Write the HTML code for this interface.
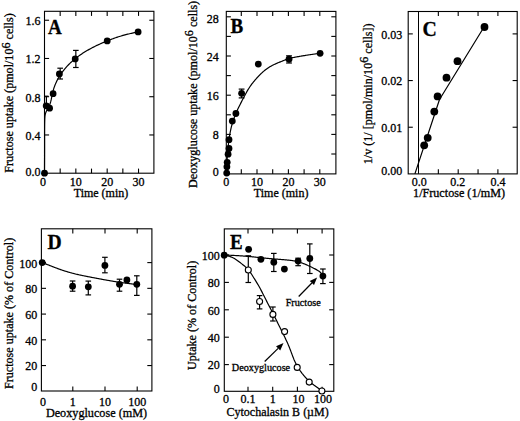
<!DOCTYPE html>
<html><head><meta charset="utf-8"><style>
html,body{margin:0;padding:0;background:#fff;}
svg{display:block;}
text{font-family:"Liberation Serif", serif;fill:#000;stroke:#000;stroke-width:0.3px;}
</style></head><body>
<svg width="520" height="421" viewBox="0 0 520 421">
<rect width="520" height="421" fill="#fff"/>
<rect x="44.50" y="11.30" width="109.40" height="161.90" fill="none" stroke="#000" stroke-width="1.1"/>
<line x1="60.17" y1="173.20" x2="60.17" y2="168.60" stroke="#000" stroke-width="1.1"/>
<line x1="60.17" y1="11.30" x2="60.17" y2="15.90" stroke="#000" stroke-width="1.1"/>
<line x1="75.84" y1="173.20" x2="75.84" y2="168.60" stroke="#000" stroke-width="1.1"/>
<line x1="75.84" y1="11.30" x2="75.84" y2="15.90" stroke="#000" stroke-width="1.1"/>
<line x1="91.51" y1="173.20" x2="91.51" y2="168.60" stroke="#000" stroke-width="1.1"/>
<line x1="91.51" y1="11.30" x2="91.51" y2="15.90" stroke="#000" stroke-width="1.1"/>
<line x1="107.18" y1="173.20" x2="107.18" y2="168.60" stroke="#000" stroke-width="1.1"/>
<line x1="107.18" y1="11.30" x2="107.18" y2="15.90" stroke="#000" stroke-width="1.1"/>
<line x1="122.85" y1="173.20" x2="122.85" y2="168.60" stroke="#000" stroke-width="1.1"/>
<line x1="122.85" y1="11.30" x2="122.85" y2="15.90" stroke="#000" stroke-width="1.1"/>
<line x1="138.52" y1="173.20" x2="138.52" y2="168.60" stroke="#000" stroke-width="1.1"/>
<line x1="138.52" y1="11.30" x2="138.52" y2="15.90" stroke="#000" stroke-width="1.1"/>
<line x1="44.50" y1="134.96" x2="49.10" y2="134.96" stroke="#000" stroke-width="1.1"/>
<line x1="153.90" y1="134.96" x2="149.30" y2="134.96" stroke="#000" stroke-width="1.1"/>
<line x1="44.50" y1="96.72" x2="49.10" y2="96.72" stroke="#000" stroke-width="1.1"/>
<line x1="153.90" y1="96.72" x2="149.30" y2="96.72" stroke="#000" stroke-width="1.1"/>
<line x1="44.50" y1="58.48" x2="49.10" y2="58.48" stroke="#000" stroke-width="1.1"/>
<line x1="153.90" y1="58.48" x2="149.30" y2="58.48" stroke="#000" stroke-width="1.1"/>
<line x1="44.50" y1="20.24" x2="49.10" y2="20.24" stroke="#000" stroke-width="1.1"/>
<line x1="153.90" y1="20.24" x2="149.30" y2="20.24" stroke="#000" stroke-width="1.1"/>
<text x="43.00" y="185.60" font-size="12" text-anchor="middle" font-weight="normal" >0</text>
<text x="75.84" y="185.60" font-size="12" text-anchor="middle" font-weight="normal" >10</text>
<text x="107.18" y="185.60" font-size="12" text-anchor="middle" font-weight="normal" >20</text>
<text x="138.52" y="185.60" font-size="12" text-anchor="middle" font-weight="normal" >30</text>
<text x="40.60" y="175.50" font-size="12" text-anchor="end" font-weight="normal" >0.0</text>
<text x="40.60" y="139.86" font-size="12" text-anchor="end" font-weight="normal" >0.4</text>
<text x="40.60" y="101.62" font-size="12" text-anchor="end" font-weight="normal" >0.8</text>
<text x="40.60" y="63.38" font-size="12" text-anchor="end" font-weight="normal" >1.2</text>
<text x="40.60" y="25.14" font-size="12" text-anchor="end" font-weight="normal" >1.6</text>
<text x="101.00" y="197.30" font-size="12" text-anchor="middle" font-weight="normal" >Time (min)</text>
<text x="13.40" y="93.05" font-size="12.1" text-anchor="middle" font-weight="normal" transform="rotate(-90 13.4 93.05)">Fructose uptake (pmol/10<tspan dy="-3.8">6</tspan><tspan dy="3.8"> cells)</tspan></text>
<text transform="translate(48.00 33.50) scale(1 1.08)" x="0" y="0" font-size="19" font-weight="bold">A</text>
<path d="M44.50,173.20 L44.51,172.23 L44.51,171.26 L44.51,170.29 L44.52,169.32 L44.52,168.36 L44.53,167.39 L44.53,166.42 L44.54,165.45 L44.54,164.48 L44.55,163.51 L44.55,162.54 L44.56,161.58 L44.56,160.61 L44.57,159.64 L44.57,158.67 L44.57,157.71 L44.58,156.74 L44.58,155.77 L44.58,154.81 L44.59,153.84 L44.59,152.88 L44.59,151.91 L44.59,150.95 L44.60,149.98 L44.60,149.02 L44.60,148.06 L44.60,147.09 L44.60,146.13 L44.60,145.17 L44.60,144.21 L44.60,143.25 L44.60,142.29 L44.60,141.33 L44.60,140.37 L44.60,139.41 L44.60,138.45 L44.60,137.50 L44.59,136.54 L44.59,135.58 L44.59,134.62 L44.59,133.66 L44.59,132.71 L44.59,131.75 L44.60,130.79 L44.60,129.82 L44.61,128.86 L44.61,127.90 L44.62,126.93 L44.63,125.96 L44.64,124.99 L44.66,124.02 L44.68,123.04 L44.70,122.06 L44.72,121.08 L44.75,120.10 L44.78,119.11 L44.82,118.13 L44.88,117.14 L44.97,116.17 L45.11,115.21 L45.29,114.26 L45.52,113.33 L45.83,112.43 L46.20,111.55 L46.65,110.70 L47.14,109.87 L47.64,109.03 L48.13,108.20 L48.59,107.35 L49.01,106.49 L49.40,105.61 L49.74,104.71 L50.06,103.81 L50.35,102.89 L50.62,101.97 L50.86,101.03 L51.09,100.09 L51.31,99.15 L51.51,98.19 L51.71,97.24 L51.90,96.28 L52.10,95.32 L52.30,94.37 L52.50,93.41 L52.72,92.46 L52.95,91.51 L53.19,90.57 L53.46,89.63 L53.74,88.70 L54.03,87.78 L54.35,86.86 L54.68,85.95 L55.03,85.05 L55.39,84.15 L55.77,83.26 L56.17,82.38 L56.58,81.50 L57.01,80.63 L57.45,79.77 L57.90,78.92 L58.38,78.07 L58.86,77.24 L59.36,76.41 L59.87,75.59 L60.39,74.77 L60.93,73.97 L61.48,73.17 L62.05,72.38 L62.62,71.60 L63.21,70.83 L63.81,70.07 L64.42,69.31 L65.04,68.57 L65.67,67.83 L66.32,67.10 L66.97,66.38 L67.63,65.67 L68.31,64.97 L68.99,64.28 L69.68,63.59 L70.38,62.92 L71.09,62.25 L71.81,61.60 L72.53,60.95 L73.26,60.31 L74.00,59.68 L74.75,59.07 L75.50,58.46 L76.27,57.86 L77.03,57.26 L77.81,56.68 L78.59,56.11 L79.37,55.55 L80.16,54.99 L80.96,54.44 L81.76,53.90 L82.57,53.37 L83.38,52.85 L84.20,52.33 L85.02,51.83 L85.85,51.32 L86.68,50.83 L87.51,50.34 L88.35,49.86 L89.19,49.39 L90.04,48.92 L90.89,48.46 L91.74,48.01 L92.59,47.56 L93.45,47.12 L94.31,46.68 L95.18,46.25 L96.05,45.83 L96.92,45.41 L97.79,44.99 L98.66,44.59 L99.54,44.18 L100.42,43.78 L101.30,43.39 L102.19,43.00 L103.07,42.62 L103.96,42.24 L104.85,41.86 L105.75,41.49 L106.64,41.13 L107.54,40.76 L108.44,40.41 L109.34,40.05 L110.24,39.70 L111.14,39.36 L112.05,39.02 L112.95,38.69 L113.86,38.36 L114.77,38.04 L115.69,37.72 L116.60,37.41 L117.52,37.10 L118.44,36.80 L119.36,36.51 L120.28,36.23 L121.20,35.95 L122.13,35.68 L123.06,35.41 L123.99,35.16 L124.92,34.91 L125.85,34.66 L126.79,34.43 L127.73,34.20 L128.66,33.97 L129.60,33.75 L130.55,33.53 L131.49,33.32 L132.43,33.11 L133.37,32.91 L134.32,32.70 L135.26,32.50 L136.21,32.30 L137.15,32.10 L138.10,31.90" fill="none" stroke="#000" stroke-width="1.2" stroke-linejoin="round"/>
<line x1="60.17" y1="68.20" x2="60.17" y2="79.00" stroke="#000" stroke-width="1.2"/>
<line x1="57.37" y1="68.20" x2="62.97" y2="68.20" stroke="#000" stroke-width="1.2"/>
<line x1="57.37" y1="79.00" x2="62.97" y2="79.00" stroke="#000" stroke-width="1.2"/>
<line x1="75.84" y1="50.40" x2="75.84" y2="67.50" stroke="#000" stroke-width="1.2"/>
<line x1="73.04" y1="50.40" x2="78.64" y2="50.40" stroke="#000" stroke-width="1.2"/>
<line x1="73.04" y1="67.50" x2="78.64" y2="67.50" stroke="#000" stroke-width="1.2"/>
<line x1="46.40" y1="96.20" x2="46.40" y2="104.00" stroke="#000" stroke-width="1.2"/>
<line x1="44.30" y1="96.20" x2="48.50" y2="96.20" stroke="#000" stroke-width="1.2"/>
<line x1="44.30" y1="104.00" x2="48.50" y2="104.00" stroke="#000" stroke-width="1.2"/>
<circle cx="44.50" cy="173.20" r="3.4" fill="#000"/>
<circle cx="46.20" cy="105.80" r="3.4" fill="#000"/>
<circle cx="49.60" cy="108.20" r="3.4" fill="#000"/>
<circle cx="53.10" cy="93.70" r="3.4" fill="#000"/>
<circle cx="59.40" cy="74.00" r="3.4" fill="#000"/>
<circle cx="75.20" cy="58.90" r="3.4" fill="#000"/>
<circle cx="107.20" cy="40.90" r="3.4" fill="#000"/>
<circle cx="138.10" cy="31.90" r="3.4" fill="#000"/>
<rect x="226.30" y="11.40" width="109.60" height="162.50" fill="none" stroke="#000" stroke-width="1.1"/>
<line x1="241.30" y1="173.90" x2="241.30" y2="169.30" stroke="#000" stroke-width="1.1"/>
<line x1="241.30" y1="11.40" x2="241.30" y2="16.00" stroke="#000" stroke-width="1.1"/>
<line x1="257.00" y1="173.90" x2="257.00" y2="169.30" stroke="#000" stroke-width="1.1"/>
<line x1="257.00" y1="11.40" x2="257.00" y2="16.00" stroke="#000" stroke-width="1.1"/>
<line x1="272.70" y1="173.90" x2="272.70" y2="169.30" stroke="#000" stroke-width="1.1"/>
<line x1="272.70" y1="11.40" x2="272.70" y2="16.00" stroke="#000" stroke-width="1.1"/>
<line x1="288.40" y1="173.90" x2="288.40" y2="169.30" stroke="#000" stroke-width="1.1"/>
<line x1="288.40" y1="11.40" x2="288.40" y2="16.00" stroke="#000" stroke-width="1.1"/>
<line x1="304.10" y1="173.90" x2="304.10" y2="169.30" stroke="#000" stroke-width="1.1"/>
<line x1="304.10" y1="11.40" x2="304.10" y2="16.00" stroke="#000" stroke-width="1.1"/>
<line x1="319.80" y1="173.90" x2="319.80" y2="169.30" stroke="#000" stroke-width="1.1"/>
<line x1="319.80" y1="11.40" x2="319.80" y2="16.00" stroke="#000" stroke-width="1.1"/>
<line x1="226.30" y1="154.00" x2="230.90" y2="154.00" stroke="#000" stroke-width="1.1"/>
<line x1="335.90" y1="154.00" x2="331.30" y2="154.00" stroke="#000" stroke-width="1.1"/>
<line x1="226.30" y1="134.40" x2="230.90" y2="134.40" stroke="#000" stroke-width="1.1"/>
<line x1="335.90" y1="134.40" x2="331.30" y2="134.40" stroke="#000" stroke-width="1.1"/>
<line x1="226.30" y1="114.80" x2="230.90" y2="114.80" stroke="#000" stroke-width="1.1"/>
<line x1="335.90" y1="114.80" x2="331.30" y2="114.80" stroke="#000" stroke-width="1.1"/>
<line x1="226.30" y1="95.20" x2="230.90" y2="95.20" stroke="#000" stroke-width="1.1"/>
<line x1="335.90" y1="95.20" x2="331.30" y2="95.20" stroke="#000" stroke-width="1.1"/>
<line x1="226.30" y1="75.60" x2="230.90" y2="75.60" stroke="#000" stroke-width="1.1"/>
<line x1="335.90" y1="75.60" x2="331.30" y2="75.60" stroke="#000" stroke-width="1.1"/>
<line x1="226.30" y1="56.00" x2="230.90" y2="56.00" stroke="#000" stroke-width="1.1"/>
<line x1="335.90" y1="56.00" x2="331.30" y2="56.00" stroke="#000" stroke-width="1.1"/>
<line x1="226.30" y1="36.40" x2="230.90" y2="36.40" stroke="#000" stroke-width="1.1"/>
<line x1="335.90" y1="36.40" x2="331.30" y2="36.40" stroke="#000" stroke-width="1.1"/>
<line x1="226.30" y1="16.80" x2="230.90" y2="16.80" stroke="#000" stroke-width="1.1"/>
<line x1="335.90" y1="16.80" x2="331.30" y2="16.80" stroke="#000" stroke-width="1.1"/>
<text x="226.30" y="185.60" font-size="12" text-anchor="middle" font-weight="normal" >0</text>
<text x="257.00" y="185.60" font-size="12" text-anchor="middle" font-weight="normal" >10</text>
<text x="288.40" y="185.60" font-size="12" text-anchor="middle" font-weight="normal" >20</text>
<text x="319.80" y="185.60" font-size="12" text-anchor="middle" font-weight="normal" >30</text>
<text x="218.80" y="176.00" font-size="12" text-anchor="end" font-weight="normal" >0</text>
<text x="218.80" y="139.30" font-size="12" text-anchor="end" font-weight="normal" >8</text>
<text x="218.80" y="100.10" font-size="12" text-anchor="end" font-weight="normal" >16</text>
<text x="218.80" y="60.90" font-size="12" text-anchor="end" font-weight="normal" >24</text>
<text x="218.80" y="23.00" font-size="12" text-anchor="end" font-weight="normal" >28</text>
<text x="281.10" y="197.30" font-size="12" text-anchor="middle" font-weight="normal" >Time (min)</text>
<text x="197.20" y="94.40" font-size="12.1" text-anchor="middle" font-weight="normal" transform="rotate(-90 197.2 94.4)">Deoxyglucose uptake (pmol/10<tspan dy="-3.8">6</tspan><tspan dy="3.8"> cells)</tspan></text>
<text transform="translate(230.50 33.20) scale(1 1.08)" x="0" y="0" font-size="19" font-weight="bold">B</text>
<path d="M226.30,173.60 L226.34,172.74 L226.39,171.87 L226.44,171.01 L226.48,170.15 L226.53,169.28 L226.57,168.42 L226.62,167.56 L226.67,166.69 L226.71,165.83 L226.76,164.97 L226.81,164.10 L226.86,163.24 L226.92,162.38 L226.97,161.51 L227.02,160.65 L227.08,159.79 L227.14,158.92 L227.20,158.06 L227.26,157.20 L227.32,156.34 L227.38,155.47 L227.45,154.61 L227.52,153.75 L227.59,152.89 L227.66,152.03 L227.73,151.17 L227.81,150.30 L227.89,149.44 L227.97,148.58 L228.06,147.72 L228.14,146.86 L228.24,146.00 L228.33,145.14 L228.43,144.28 L228.53,143.42 L228.63,142.56 L228.74,141.71 L228.85,140.85 L228.96,139.99 L229.08,139.13 L229.20,138.28 L229.33,137.42 L229.46,136.56 L229.59,135.71 L229.73,134.86 L229.88,134.00 L230.03,133.15 L230.19,132.30 L230.36,131.45 L230.53,130.60 L230.71,129.76 L230.89,128.91 L231.09,128.07 L231.29,127.23 L231.50,126.39 L231.72,125.55 L231.95,124.72 L232.18,123.89 L232.43,123.06 L232.68,122.23 L232.94,121.40 L233.21,120.58 L233.49,119.76 L233.77,118.94 L234.07,118.13 L234.37,117.32 L234.67,116.51 L234.99,115.70 L235.31,114.90 L235.63,114.09 L235.97,113.29 L236.31,112.50 L236.65,111.71 L237.01,110.92 L237.36,110.13 L237.73,109.34 L238.09,108.56 L238.47,107.78 L238.84,107.01 L239.23,106.23 L239.61,105.46 L240.00,104.68 L240.39,103.91 L240.78,103.14 L241.18,102.37 L241.58,101.60 L241.97,100.84 L242.37,100.07 L242.78,99.30 L243.18,98.53 L243.58,97.77 L243.98,97.00 L244.38,96.23 L244.79,95.47 L245.20,94.70 L245.61,93.94 L246.02,93.18 L246.44,92.42 L246.87,91.67 L247.30,90.92 L247.74,90.17 L248.18,89.43 L248.63,88.70 L249.10,87.97 L249.57,87.25 L250.05,86.53 L250.54,85.82 L251.04,85.12 L251.55,84.42 L252.07,83.73 L252.60,83.04 L253.14,82.37 L253.69,81.69 L254.24,81.03 L254.80,80.36 L255.36,79.71 L255.93,79.05 L256.51,78.41 L257.08,77.76 L257.67,77.12 L258.26,76.49 L258.85,75.86 L259.45,75.24 L260.06,74.62 L260.68,74.02 L261.30,73.42 L261.93,72.82 L262.57,72.24 L263.22,71.67 L263.88,71.11 L264.55,70.55 L265.22,70.01 L265.91,69.49 L266.61,68.97 L267.31,68.46 L268.03,67.97 L268.75,67.50 L269.48,67.03 L270.22,66.58 L270.97,66.15 L271.73,65.73 L272.49,65.33 L273.26,64.94 L274.04,64.57 L274.82,64.20 L275.61,63.85 L276.41,63.50 L277.20,63.16 L278.00,62.82 L278.80,62.49 L279.60,62.16 L280.40,61.83 L281.21,61.51 L282.01,61.18 L282.81,60.85 L283.62,60.54 L284.42,60.22 L285.23,59.92 L286.04,59.62 L286.86,59.34 L287.68,59.07 L288.50,58.81 L289.33,58.56 L290.16,58.33 L291.00,58.11 L291.83,57.90 L292.68,57.71 L293.52,57.52 L294.37,57.34 L295.22,57.17 L296.07,57.00 L296.92,56.84 L297.77,56.69 L298.63,56.54 L299.48,56.39 L300.33,56.24 L301.19,56.10 L302.04,55.96 L302.89,55.81 L303.75,55.67 L304.60,55.54 L305.45,55.40 L306.31,55.26 L307.16,55.13 L308.02,55.00 L308.87,54.87 L309.72,54.74 L310.58,54.61 L311.44,54.49 L312.29,54.37 L313.15,54.24 L314.00,54.12 L314.86,54.00 L315.72,53.89 L316.57,53.77 L317.43,53.65 L318.29,53.53 L319.14,53.42 L320.00,53.30" fill="none" stroke="#000" stroke-width="1.2" stroke-linejoin="round"/>
<line x1="241.60" y1="89.10" x2="241.60" y2="97.90" stroke="#000" stroke-width="1.2"/>
<line x1="238.70" y1="89.10" x2="244.50" y2="89.10" stroke="#000" stroke-width="1.2"/>
<line x1="238.70" y1="97.90" x2="244.50" y2="97.90" stroke="#000" stroke-width="1.2"/>
<line x1="289.00" y1="55.80" x2="289.00" y2="63.00" stroke="#000" stroke-width="1.2"/>
<line x1="286.10" y1="55.80" x2="291.90" y2="55.80" stroke="#000" stroke-width="1.2"/>
<line x1="286.10" y1="63.00" x2="291.90" y2="63.00" stroke="#000" stroke-width="1.2"/>
<circle cx="226.70" cy="173.10" r="3.4" fill="#000"/>
<circle cx="226.90" cy="166.80" r="3.4" fill="#000"/>
<circle cx="227.20" cy="162.30" r="3.4" fill="#000"/>
<circle cx="228.10" cy="154.20" r="3.4" fill="#000"/>
<circle cx="229.00" cy="148.40" r="3.4" fill="#000"/>
<circle cx="229.00" cy="139.70" r="3.4" fill="#000"/>
<circle cx="232.30" cy="121.10" r="3.4" fill="#000"/>
<circle cx="235.90" cy="113.50" r="3.4" fill="#000"/>
<circle cx="241.60" cy="93.30" r="3.4" fill="#000"/>
<circle cx="258.30" cy="64.10" r="3.4" fill="#000"/>
<circle cx="289.00" cy="59.20" r="3.4" fill="#000"/>
<circle cx="320.10" cy="53.30" r="3.4" fill="#000"/>
<rect x="408.20" y="11.50" width="109.00" height="162.40" fill="none" stroke="#000" stroke-width="1.1"/>
<line x1="418.50" y1="11.50" x2="418.50" y2="173.90" stroke="#000" stroke-width="1.0"/>
<line x1="438.35" y1="173.90" x2="438.35" y2="169.30" stroke="#000" stroke-width="1.1"/>
<line x1="438.35" y1="11.50" x2="438.35" y2="16.10" stroke="#000" stroke-width="1.1"/>
<line x1="458.20" y1="173.90" x2="458.20" y2="169.30" stroke="#000" stroke-width="1.1"/>
<line x1="458.20" y1="11.50" x2="458.20" y2="16.10" stroke="#000" stroke-width="1.1"/>
<line x1="478.05" y1="173.90" x2="478.05" y2="169.30" stroke="#000" stroke-width="1.1"/>
<line x1="478.05" y1="11.50" x2="478.05" y2="16.10" stroke="#000" stroke-width="1.1"/>
<line x1="497.90" y1="173.90" x2="497.90" y2="169.30" stroke="#000" stroke-width="1.1"/>
<line x1="497.90" y1="11.50" x2="497.90" y2="16.10" stroke="#000" stroke-width="1.1"/>
<line x1="408.20" y1="127.23" x2="412.80" y2="127.23" stroke="#000" stroke-width="1.1"/>
<line x1="517.20" y1="127.23" x2="512.60" y2="127.23" stroke="#000" stroke-width="1.1"/>
<line x1="408.20" y1="80.56" x2="412.80" y2="80.56" stroke="#000" stroke-width="1.1"/>
<line x1="517.20" y1="80.56" x2="512.60" y2="80.56" stroke="#000" stroke-width="1.1"/>
<line x1="408.20" y1="33.89" x2="412.80" y2="33.89" stroke="#000" stroke-width="1.1"/>
<line x1="517.20" y1="33.89" x2="512.60" y2="33.89" stroke="#000" stroke-width="1.1"/>
<text x="419.20" y="185.60" font-size="12" text-anchor="middle" font-weight="normal" >0.0</text>
<text x="457.80" y="185.60" font-size="12" text-anchor="middle" font-weight="normal" >0.2</text>
<text x="498.00" y="185.60" font-size="12" text-anchor="middle" font-weight="normal" >0.4</text>
<text x="402.30" y="175.20" font-size="12" text-anchor="end" font-weight="normal" >0.00</text>
<text x="402.30" y="132.03" font-size="12" text-anchor="end" font-weight="normal" >0.01</text>
<text x="402.30" y="85.36" font-size="12" text-anchor="end" font-weight="normal" >0.02</text>
<text x="402.30" y="38.69" font-size="12" text-anchor="end" font-weight="normal" >0.03</text>
<text x="459.10" y="197.30" font-size="12.15" text-anchor="middle" font-weight="normal" >1/Fructose (1/mM)</text>
<text x="372.20" y="93.85" font-size="12.1" text-anchor="middle" font-weight="normal" transform="rotate(-90 372.2 93.85)">1/v (1/ [pmol/min/10<tspan dy="-3.8">6</tspan><tspan dy="3.8"> cells])</tspan></text>
<text transform="translate(422.60 35.50) scale(1 1.05)" x="0" y="0" font-size="19.8" font-weight="bold">C</text>
<path d="M414.90,173.90 L439.50,99.50 L484.50,26.30" fill="none" stroke="#000" stroke-width="1.2" stroke-linejoin="round"/>
<circle cx="484.50" cy="27.00" r="3.9" fill="#000"/>
<circle cx="457.50" cy="61.20" r="3.9" fill="#000"/>
<circle cx="446.50" cy="77.70" r="3.9" fill="#000"/>
<circle cx="437.60" cy="96.40" r="3.9" fill="#000"/>
<circle cx="434.30" cy="111.60" r="3.9" fill="#000"/>
<circle cx="427.70" cy="137.80" r="3.9" fill="#000"/>
<circle cx="424.20" cy="145.30" r="3.9" fill="#000"/>
<rect x="41.40" y="228.80" width="110.50" height="162.20" fill="none" stroke="#000" stroke-width="1.1"/>
<line x1="72.80" y1="391.00" x2="72.80" y2="386.40" stroke="#000" stroke-width="1.1"/>
<line x1="72.80" y1="228.80" x2="72.80" y2="233.40" stroke="#000" stroke-width="1.1"/>
<line x1="105.00" y1="391.00" x2="105.00" y2="386.40" stroke="#000" stroke-width="1.1"/>
<line x1="105.00" y1="228.80" x2="105.00" y2="233.40" stroke="#000" stroke-width="1.1"/>
<line x1="137.20" y1="391.00" x2="137.20" y2="386.40" stroke="#000" stroke-width="1.1"/>
<line x1="137.20" y1="228.80" x2="137.20" y2="233.40" stroke="#000" stroke-width="1.1"/>
<line x1="41.40" y1="365.56" x2="46.00" y2="365.56" stroke="#000" stroke-width="1.1"/>
<line x1="151.90" y1="365.56" x2="147.30" y2="365.56" stroke="#000" stroke-width="1.1"/>
<line x1="41.40" y1="339.82" x2="46.00" y2="339.82" stroke="#000" stroke-width="1.1"/>
<line x1="151.90" y1="339.82" x2="147.30" y2="339.82" stroke="#000" stroke-width="1.1"/>
<line x1="41.40" y1="314.08" x2="46.00" y2="314.08" stroke="#000" stroke-width="1.1"/>
<line x1="151.90" y1="314.08" x2="147.30" y2="314.08" stroke="#000" stroke-width="1.1"/>
<line x1="41.40" y1="288.34" x2="46.00" y2="288.34" stroke="#000" stroke-width="1.1"/>
<line x1="151.90" y1="288.34" x2="147.30" y2="288.34" stroke="#000" stroke-width="1.1"/>
<line x1="41.40" y1="262.60" x2="46.00" y2="262.60" stroke="#000" stroke-width="1.1"/>
<line x1="151.90" y1="262.60" x2="147.30" y2="262.60" stroke="#000" stroke-width="1.1"/>
<text x="43.10" y="405.50" font-size="12" text-anchor="middle" font-weight="normal" >0</text>
<text x="72.80" y="405.50" font-size="12" text-anchor="middle" font-weight="normal" >1</text>
<text x="105.00" y="405.50" font-size="12" text-anchor="middle" font-weight="normal" >10</text>
<text x="137.20" y="405.50" font-size="12" text-anchor="middle" font-weight="normal" >100</text>
<text x="37.20" y="391.00" font-size="12" text-anchor="end" font-weight="normal" >0</text>
<text x="37.20" y="370.46" font-size="12" text-anchor="end" font-weight="normal" >20</text>
<text x="37.20" y="344.72" font-size="12" text-anchor="end" font-weight="normal" >40</text>
<text x="37.20" y="318.98" font-size="12" text-anchor="end" font-weight="normal" >60</text>
<text x="37.20" y="293.24" font-size="12" text-anchor="end" font-weight="normal" >80</text>
<text x="37.20" y="267.50" font-size="12" text-anchor="end" font-weight="normal" >100</text>
<text x="96.50" y="416.50" font-size="12.2" text-anchor="middle" font-weight="normal" >Deoxyglucose (mM)</text>
<text x="13.40" y="313.40" font-size="12.1" text-anchor="middle" font-weight="normal" transform="rotate(-90 13.4 313.4)">Fructose uptake (% of Control)</text>
<text transform="translate(47.40 248.50) scale(1 1.05)" x="0" y="0" font-size="19.6" font-weight="bold">D</text>
<path d="M42.20,262.60 L42.66,262.77 L43.11,262.95 L43.57,263.12 L44.03,263.30 L44.49,263.47 L44.94,263.65 L45.40,263.83 L45.86,264.00 L46.32,264.18 L46.77,264.35 L47.23,264.53 L47.69,264.70 L48.14,264.88 L48.60,265.06 L49.06,265.23 L49.51,265.41 L49.97,265.59 L50.43,265.77 L50.88,265.94 L51.34,266.12 L51.79,266.30 L52.25,266.48 L52.71,266.66 L53.16,266.83 L53.62,267.01 L54.08,267.19 L54.53,267.36 L54.99,267.54 L55.45,267.72 L55.90,267.89 L56.36,268.06 L56.82,268.24 L57.28,268.41 L57.74,268.58 L58.20,268.75 L58.66,268.92 L59.12,269.08 L59.58,269.25 L60.04,269.41 L60.50,269.58 L60.96,269.74 L61.43,269.90 L61.89,270.05 L62.35,270.21 L62.82,270.37 L63.28,270.52 L63.75,270.67 L64.22,270.82 L64.68,270.97 L65.15,271.12 L65.62,271.26 L66.09,271.40 L66.56,271.55 L67.02,271.69 L67.49,271.83 L67.96,271.97 L68.43,272.10 L68.91,272.24 L69.38,272.37 L69.85,272.50 L70.32,272.64 L70.79,272.76 L71.27,272.89 L71.74,273.02 L72.21,273.15 L72.69,273.27 L73.16,273.39 L73.64,273.51 L74.11,273.63 L74.59,273.75 L75.06,273.87 L75.54,273.98 L76.01,274.10 L76.49,274.21 L76.97,274.33 L77.44,274.44 L77.92,274.55 L78.40,274.65 L78.88,274.76 L79.35,274.87 L79.83,274.97 L80.31,275.08 L80.79,275.18 L81.27,275.28 L81.75,275.39 L82.23,275.49 L82.71,275.59 L83.18,275.69 L83.66,275.78 L84.14,275.88 L84.62,275.98 L85.10,276.08 L85.58,276.17 L86.06,276.27 L86.55,276.36 L87.03,276.46 L87.51,276.55 L87.99,276.64 L88.47,276.74 L88.95,276.83 L89.43,276.92 L89.91,277.01 L90.39,277.10 L90.87,277.19 L91.35,277.29 L91.84,277.38 L92.32,277.47 L92.80,277.56 L93.28,277.65 L93.76,277.74 L94.24,277.83 L94.72,277.92 L95.21,278.01 L95.69,278.11 L96.17,278.20 L96.65,278.29 L97.13,278.38 L97.61,278.47 L98.09,278.56 L98.57,278.65 L99.06,278.74 L99.54,278.84 L100.02,278.93 L100.50,279.02 L100.98,279.11 L101.46,279.20 L101.94,279.29 L102.42,279.38 L102.91,279.47 L103.39,279.56 L103.87,279.65 L104.35,279.74 L104.83,279.83 L105.31,279.92 L105.80,280.01 L106.28,280.09 L106.76,280.18 L107.24,280.27 L107.72,280.36 L108.20,280.44 L108.69,280.53 L109.17,280.61 L109.65,280.70 L110.13,280.78 L110.62,280.87 L111.10,280.95 L111.58,281.03 L112.06,281.12 L112.55,281.20 L113.03,281.28 L113.51,281.36 L113.99,281.44 L114.48,281.52 L114.96,281.60 L115.44,281.68 L115.93,281.76 L116.41,281.83 L116.89,281.91 L117.38,281.98 L117.86,282.06 L118.34,282.13 L118.83,282.20 L119.31,282.28 L119.80,282.35 L120.28,282.42 L120.77,282.49 L121.25,282.56 L121.74,282.62 L122.22,282.69 L122.71,282.76 L123.19,282.82 L123.68,282.89 L124.16,282.95 L124.65,283.02 L125.13,283.08 L125.62,283.15 L126.10,283.21 L126.59,283.27 L127.07,283.33 L127.56,283.39 L128.05,283.45 L128.53,283.51 L129.02,283.57 L129.50,283.63 L129.99,283.69 L130.48,283.75 L130.96,283.81 L131.45,283.87 L131.94,283.93 L132.42,283.99 L132.91,284.04 L133.39,284.10 L133.88,284.16 L134.37,284.22 L134.85,284.27 L135.34,284.33 L135.83,284.39 L136.31,284.44 L136.80,284.50" fill="none" stroke="#000" stroke-width="1.2" stroke-linejoin="round"/>
<line x1="72.60" y1="281.00" x2="72.60" y2="291.20" stroke="#000" stroke-width="1.2"/>
<line x1="69.80" y1="281.00" x2="75.40" y2="281.00" stroke="#000" stroke-width="1.2"/>
<line x1="69.80" y1="291.20" x2="75.40" y2="291.20" stroke="#000" stroke-width="1.2"/>
<line x1="88.30" y1="281.10" x2="88.30" y2="294.90" stroke="#000" stroke-width="1.2"/>
<line x1="85.50" y1="281.10" x2="91.10" y2="281.10" stroke="#000" stroke-width="1.2"/>
<line x1="85.50" y1="294.90" x2="91.10" y2="294.90" stroke="#000" stroke-width="1.2"/>
<line x1="104.90" y1="257.30" x2="104.90" y2="272.80" stroke="#000" stroke-width="1.2"/>
<line x1="102.10" y1="257.30" x2="107.70" y2="257.30" stroke="#000" stroke-width="1.2"/>
<line x1="102.10" y1="272.80" x2="107.70" y2="272.80" stroke="#000" stroke-width="1.2"/>
<line x1="119.50" y1="279.20" x2="119.50" y2="291.20" stroke="#000" stroke-width="1.2"/>
<line x1="116.70" y1="279.20" x2="122.30" y2="279.20" stroke="#000" stroke-width="1.2"/>
<line x1="116.70" y1="291.20" x2="122.30" y2="291.20" stroke="#000" stroke-width="1.2"/>
<line x1="136.80" y1="275.80" x2="136.80" y2="295.40" stroke="#000" stroke-width="1.2"/>
<line x1="134.00" y1="275.80" x2="139.60" y2="275.80" stroke="#000" stroke-width="1.2"/>
<line x1="134.00" y1="295.40" x2="139.60" y2="295.40" stroke="#000" stroke-width="1.2"/>
<circle cx="42.20" cy="262.60" r="3.4" fill="#000"/>
<circle cx="72.60" cy="286.20" r="3.4" fill="#000"/>
<circle cx="88.30" cy="286.80" r="3.4" fill="#000"/>
<circle cx="104.90" cy="265.40" r="3.4" fill="#000"/>
<circle cx="119.50" cy="284.30" r="3.4" fill="#000"/>
<circle cx="126.90" cy="279.90" r="3.4" fill="#000"/>
<circle cx="136.80" cy="284.30" r="3.4" fill="#000"/>
<rect x="224.30" y="228.90" width="109.50" height="162.40" fill="none" stroke="#000" stroke-width="1.1"/>
<line x1="248.00" y1="391.30" x2="248.00" y2="386.70" stroke="#000" stroke-width="1.1"/>
<line x1="248.00" y1="228.90" x2="248.00" y2="233.50" stroke="#000" stroke-width="1.1"/>
<line x1="272.70" y1="391.30" x2="272.70" y2="386.70" stroke="#000" stroke-width="1.1"/>
<line x1="272.70" y1="228.90" x2="272.70" y2="233.50" stroke="#000" stroke-width="1.1"/>
<line x1="297.40" y1="391.30" x2="297.40" y2="386.70" stroke="#000" stroke-width="1.1"/>
<line x1="297.40" y1="228.90" x2="297.40" y2="233.50" stroke="#000" stroke-width="1.1"/>
<line x1="322.10" y1="391.30" x2="322.10" y2="386.70" stroke="#000" stroke-width="1.1"/>
<line x1="322.10" y1="228.90" x2="322.10" y2="233.50" stroke="#000" stroke-width="1.1"/>
<line x1="224.30" y1="364.60" x2="228.90" y2="364.60" stroke="#000" stroke-width="1.1"/>
<line x1="333.80" y1="364.60" x2="329.20" y2="364.60" stroke="#000" stroke-width="1.1"/>
<line x1="224.30" y1="337.20" x2="228.90" y2="337.20" stroke="#000" stroke-width="1.1"/>
<line x1="333.80" y1="337.20" x2="329.20" y2="337.20" stroke="#000" stroke-width="1.1"/>
<line x1="224.30" y1="309.80" x2="228.90" y2="309.80" stroke="#000" stroke-width="1.1"/>
<line x1="333.80" y1="309.80" x2="329.20" y2="309.80" stroke="#000" stroke-width="1.1"/>
<line x1="224.30" y1="282.40" x2="228.90" y2="282.40" stroke="#000" stroke-width="1.1"/>
<line x1="333.80" y1="282.40" x2="329.20" y2="282.40" stroke="#000" stroke-width="1.1"/>
<line x1="224.30" y1="255.00" x2="228.90" y2="255.00" stroke="#000" stroke-width="1.1"/>
<line x1="333.80" y1="255.00" x2="329.20" y2="255.00" stroke="#000" stroke-width="1.1"/>
<text x="226.10" y="403.30" font-size="12" text-anchor="middle" font-weight="normal" >0</text>
<text x="247.90" y="403.30" font-size="12" text-anchor="middle" font-weight="normal" >0.1</text>
<text x="272.70" y="403.30" font-size="12" text-anchor="middle" font-weight="normal" >1</text>
<text x="298.50" y="403.30" font-size="12" text-anchor="middle" font-weight="normal" >10</text>
<text x="323.10" y="403.30" font-size="12" text-anchor="middle" font-weight="normal" >100</text>
<text x="219.70" y="393.00" font-size="12" text-anchor="end" font-weight="normal" >0</text>
<text x="219.70" y="369.40" font-size="12" text-anchor="end" font-weight="normal" >20</text>
<text x="219.70" y="342.00" font-size="12" text-anchor="end" font-weight="normal" >40</text>
<text x="219.70" y="314.60" font-size="12" text-anchor="end" font-weight="normal" >60</text>
<text x="219.70" y="287.20" font-size="12" text-anchor="end" font-weight="normal" >80</text>
<text x="219.70" y="259.80" font-size="12" text-anchor="end" font-weight="normal" >100</text>
<text x="277.60" y="415.90" font-size="12" text-anchor="middle" font-weight="normal" >Cytochalasin B (µM)</text>
<text x="196.30" y="315.40" font-size="12.1" text-anchor="middle" font-weight="normal" transform="rotate(-90 196.3 315.4)">Uptake (% of Control)</text>
<text transform="translate(230.00 249.00) scale(1 1.08)" x="0" y="0" font-size="19" font-weight="bold">E</text>
<path d="M224.30,255.00 L224.82,255.02 L225.34,255.04 L225.86,255.07 L226.38,255.09 L226.90,255.11 L227.42,255.13 L227.94,255.16 L228.45,255.18 L228.97,255.20 L229.49,255.23 L230.01,255.25 L230.53,255.27 L231.05,255.30 L231.57,255.32 L232.09,255.35 L232.61,255.37 L233.13,255.40 L233.65,255.43 L234.17,255.45 L234.68,255.48 L235.20,255.51 L235.72,255.53 L236.24,255.56 L236.76,255.59 L237.28,255.62 L237.80,255.65 L238.32,255.68 L238.83,255.72 L239.35,255.75 L239.87,255.78 L240.39,255.82 L240.91,255.85 L241.43,255.89 L241.94,255.92 L242.46,255.96 L242.98,256.00 L243.50,256.04 L244.02,256.08 L244.53,256.12 L245.05,256.16 L245.57,256.20 L246.09,256.25 L246.61,256.29 L247.12,256.34 L247.64,256.38 L248.16,256.43 L248.68,256.47 L249.19,256.52 L249.71,256.57 L250.23,256.62 L250.75,256.67 L251.26,256.72 L251.78,256.77 L252.30,256.82 L252.81,256.87 L253.33,256.92 L253.85,256.97 L254.37,257.02 L254.88,257.07 L255.40,257.13 L255.92,257.18 L256.43,257.23 L256.95,257.29 L257.47,257.34 L257.99,257.39 L258.50,257.45 L259.02,257.50 L259.54,257.55 L260.05,257.61 L260.57,257.66 L261.09,257.71 L261.61,257.77 L262.12,257.82 L262.64,257.87 L263.16,257.92 L263.67,257.98 L264.19,258.03 L264.71,258.08 L265.23,258.13 L265.74,258.19 L266.26,258.24 L266.78,258.29 L267.29,258.34 L267.81,258.39 L268.33,258.44 L268.85,258.49 L269.36,258.53 L269.88,258.58 L270.40,258.63 L270.92,258.68 L271.43,258.72 L271.95,258.77 L272.47,258.81 L272.99,258.86 L273.50,258.90 L274.02,258.94 L274.54,258.98 L275.06,259.03 L275.57,259.07 L276.09,259.11 L276.61,259.15 L277.13,259.18 L277.64,259.22 L278.16,259.26 L278.68,259.30 L279.20,259.34 L279.72,259.38 L280.23,259.42 L280.75,259.46 L281.27,259.50 L281.79,259.54 L282.31,259.58 L282.83,259.62 L283.34,259.66 L283.86,259.70 L284.38,259.75 L284.90,259.79 L285.42,259.84 L285.94,259.88 L286.46,259.93 L286.98,259.98 L287.49,260.03 L288.01,260.08 L288.53,260.14 L289.05,260.20 L289.57,260.26 L290.08,260.32 L290.60,260.38 L291.12,260.45 L291.63,260.52 L292.15,260.60 L292.66,260.68 L293.18,260.76 L293.69,260.85 L294.20,260.94 L294.71,261.03 L295.22,261.13 L295.73,261.24 L296.24,261.35 L296.74,261.46 L297.25,261.58 L297.75,261.71 L298.25,261.84 L298.75,261.98 L299.25,262.12 L299.75,262.27 L300.25,262.43 L300.74,262.59 L301.24,262.75 L301.73,262.92 L302.22,263.09 L302.71,263.27 L303.20,263.45 L303.69,263.64 L304.17,263.83 L304.66,264.02 L305.14,264.22 L305.62,264.42 L306.10,264.62 L306.58,264.83 L307.05,265.04 L307.53,265.25 L308.00,265.47 L308.48,265.68 L308.95,265.90 L309.42,266.12 L309.89,266.34 L310.35,266.56 L310.82,266.79 L311.28,267.01 L311.75,267.24 L312.21,267.47 L312.67,267.70 L313.14,267.94 L313.60,268.17 L314.06,268.41 L314.52,268.65 L314.98,268.89 L315.45,269.14 L315.91,269.39 L316.37,269.64 L316.84,269.89 L317.30,270.15 L317.76,270.42 L318.21,270.70 L318.65,270.98 L319.08,271.28 L319.50,271.59 L319.90,271.91 L320.28,272.26 L320.65,272.62 L320.99,273.00 L321.30,273.41 L321.60,273.83 L321.88,274.26 L322.15,274.71 L322.40,275.17 L322.65,275.63 L322.90,276.10" fill="none" stroke="#000" stroke-width="1.2" stroke-linejoin="round"/>
<path d="M224.30,255.00 L225.15,255.20 L226.00,255.40 L226.84,255.60 L227.68,255.82 L228.52,256.05 L229.34,256.30 L230.16,256.57 L230.96,256.87 L231.75,257.19 L232.53,257.55 L233.29,257.93 L234.04,258.35 L234.78,258.79 L235.51,259.25 L236.22,259.73 L236.94,260.22 L237.64,260.73 L238.34,261.25 L239.04,261.77 L239.74,262.30 L240.43,262.83 L241.13,263.36 L241.82,263.88 L242.51,264.42 L243.19,264.95 L243.87,265.50 L244.53,266.05 L245.19,266.61 L245.83,267.19 L246.45,267.77 L247.06,268.38 L247.66,268.99 L248.23,269.63 L248.78,270.29 L249.31,270.96 L249.82,271.65 L250.32,272.35 L250.81,273.06 L251.29,273.79 L251.75,274.52 L252.22,275.25 L252.67,275.99 L253.13,276.73 L253.59,277.46 L254.04,278.20 L254.50,278.93 L254.96,279.66 L255.42,280.40 L255.87,281.13 L256.32,281.86 L256.77,282.60 L257.22,283.34 L257.66,284.07 L258.09,284.82 L258.52,285.56 L258.95,286.31 L259.37,287.06 L259.79,287.82 L260.20,288.57 L260.61,289.33 L261.01,290.10 L261.41,290.86 L261.81,291.62 L262.20,292.39 L262.60,293.16 L262.99,293.93 L263.38,294.70 L263.77,295.47 L264.16,296.24 L264.55,297.01 L264.93,297.78 L265.32,298.56 L265.71,299.33 L266.10,300.10 L266.49,300.87 L266.89,301.63 L267.28,302.40 L267.68,303.17 L268.07,303.94 L268.47,304.70 L268.86,305.47 L269.26,306.24 L269.65,307.00 L270.05,307.77 L270.45,308.53 L270.84,309.30 L271.24,310.07 L271.63,310.83 L272.03,311.60 L272.42,312.37 L272.81,313.14 L273.20,313.90 L273.59,314.67 L273.98,315.44 L274.37,316.21 L274.76,316.98 L275.14,317.76 L275.53,318.53 L275.91,319.30 L276.30,320.07 L276.68,320.84 L277.06,321.62 L277.44,322.39 L277.83,323.16 L278.21,323.94 L278.59,324.71 L278.97,325.48 L279.35,326.26 L279.74,327.03 L280.12,327.81 L280.50,328.58 L280.88,329.35 L281.27,330.12 L281.65,330.90 L282.03,331.67 L282.42,332.44 L282.80,333.21 L283.19,333.99 L283.57,334.76 L283.95,335.53 L284.33,336.31 L284.71,337.08 L285.09,337.86 L285.46,338.63 L285.83,339.41 L286.20,340.19 L286.57,340.97 L286.93,341.76 L287.29,342.54 L287.64,343.33 L287.99,344.12 L288.33,344.91 L288.67,345.71 L289.00,346.51 L289.32,347.31 L289.64,348.11 L289.96,348.92 L290.27,349.73 L290.57,350.54 L290.87,351.35 L291.18,352.16 L291.48,352.97 L291.78,353.78 L292.08,354.60 L292.38,355.41 L292.69,356.22 L293.00,357.02 L293.32,357.83 L293.64,358.63 L293.96,359.43 L294.30,360.22 L294.64,361.01 L294.99,361.80 L295.35,362.58 L295.72,363.36 L296.10,364.13 L296.49,364.89 L296.90,365.65 L297.32,366.39 L297.76,367.14 L298.21,367.87 L298.67,368.60 L299.15,369.32 L299.63,370.03 L300.13,370.74 L300.64,371.44 L301.15,372.13 L301.68,372.82 L302.21,373.51 L302.75,374.18 L303.29,374.86 L303.84,375.53 L304.40,376.19 L304.96,376.84 L305.54,377.49 L306.12,378.13 L306.71,378.76 L307.31,379.38 L307.92,379.99 L308.54,380.58 L309.17,381.17 L309.81,381.74 L310.46,382.31 L311.12,382.86 L311.80,383.40 L312.47,383.94 L313.16,384.46 L313.84,384.99 L314.54,385.50 L315.23,386.02 L315.93,386.53 L316.63,387.04 L317.32,387.55 L318.02,388.06 L318.71,388.57 L319.41,389.07 L320.11,389.58 L320.80,390.09 L321.50,390.60" fill="none" stroke="#000" stroke-width="1.2" stroke-linejoin="round"/>
<line x1="273.80" y1="253.40" x2="273.80" y2="271.50" stroke="#000" stroke-width="1.2"/>
<line x1="271.00" y1="253.40" x2="276.60" y2="253.40" stroke="#000" stroke-width="1.2"/>
<line x1="271.00" y1="271.50" x2="276.60" y2="271.50" stroke="#000" stroke-width="1.2"/>
<line x1="298.10" y1="258.20" x2="298.10" y2="265.70" stroke="#000" stroke-width="1.2"/>
<line x1="295.30" y1="258.20" x2="300.90" y2="258.20" stroke="#000" stroke-width="1.2"/>
<line x1="295.30" y1="265.70" x2="300.90" y2="265.70" stroke="#000" stroke-width="1.2"/>
<line x1="309.80" y1="243.90" x2="309.80" y2="273.50" stroke="#000" stroke-width="1.2"/>
<line x1="307.00" y1="243.90" x2="312.60" y2="243.90" stroke="#000" stroke-width="1.2"/>
<line x1="307.00" y1="273.50" x2="312.60" y2="273.50" stroke="#000" stroke-width="1.2"/>
<line x1="322.90" y1="269.00" x2="322.90" y2="283.60" stroke="#000" stroke-width="1.2"/>
<line x1="320.10" y1="269.00" x2="325.70" y2="269.00" stroke="#000" stroke-width="1.2"/>
<line x1="320.10" y1="283.60" x2="325.70" y2="283.60" stroke="#000" stroke-width="1.2"/>
<line x1="248.30" y1="255.80" x2="248.30" y2="282.50" stroke="#000" stroke-width="1.2"/>
<line x1="245.50" y1="255.80" x2="251.10" y2="255.80" stroke="#000" stroke-width="1.2"/>
<line x1="245.50" y1="282.50" x2="251.10" y2="282.50" stroke="#000" stroke-width="1.2"/>
<line x1="259.60" y1="295.60" x2="259.60" y2="308.90" stroke="#000" stroke-width="1.2"/>
<line x1="256.80" y1="295.60" x2="262.40" y2="295.60" stroke="#000" stroke-width="1.2"/>
<line x1="256.80" y1="308.90" x2="262.40" y2="308.90" stroke="#000" stroke-width="1.2"/>
<line x1="272.90" y1="307.00" x2="272.90" y2="321.00" stroke="#000" stroke-width="1.2"/>
<line x1="270.10" y1="307.00" x2="275.70" y2="307.00" stroke="#000" stroke-width="1.2"/>
<line x1="270.10" y1="321.00" x2="275.70" y2="321.00" stroke="#000" stroke-width="1.2"/>
<circle cx="224.20" cy="255.20" r="3.4" fill="#000"/>
<circle cx="248.60" cy="249.30" r="3.4" fill="#000"/>
<circle cx="260.90" cy="259.30" r="3.4" fill="#000"/>
<circle cx="273.80" cy="262.20" r="3.4" fill="#000"/>
<circle cx="284.40" cy="269.10" r="3.4" fill="#000"/>
<circle cx="298.10" cy="261.10" r="3.4" fill="#000"/>
<circle cx="309.80" cy="258.50" r="3.4" fill="#000"/>
<circle cx="322.90" cy="276.10" r="3.4" fill="#000"/>
<circle cx="248.30" cy="270.00" r="3.0" fill="#fff" stroke="#000" stroke-width="1.1"/>
<circle cx="259.60" cy="301.50" r="3.0" fill="#fff" stroke="#000" stroke-width="1.1"/>
<circle cx="272.90" cy="314.40" r="3.0" fill="#fff" stroke="#000" stroke-width="1.1"/>
<circle cx="284.60" cy="331.60" r="3.0" fill="#fff" stroke="#000" stroke-width="1.1"/>
<circle cx="297.20" cy="367.40" r="3.0" fill="#fff" stroke="#000" stroke-width="1.1"/>
<circle cx="309.20" cy="382.10" r="3.0" fill="#fff" stroke="#000" stroke-width="1.1"/>
<circle cx="321.90" cy="391.00" r="3.0" fill="#fff" stroke="#000" stroke-width="1.1"/>
<text x="303.20" y="306.00" font-size="10.2" text-anchor="middle" font-weight="normal" >Fructose</text>
<text x="261.00" y="370.50" font-size="10.2" text-anchor="middle" font-weight="normal" >Deoxyglucose</text>
<line x1="298.70" y1="296.50" x2="311.87" y2="282.97" stroke="#000" stroke-width="1.2"/>
<polygon points="317.10,277.60 314.02,285.07 309.72,280.88" fill="#000"/>
<line x1="264.70" y1="361.50" x2="278.14" y2="348.35" stroke="#000" stroke-width="1.2"/>
<polygon points="283.50,343.10 280.24,350.49 276.04,346.20" fill="#000"/>
</svg></body></html>
